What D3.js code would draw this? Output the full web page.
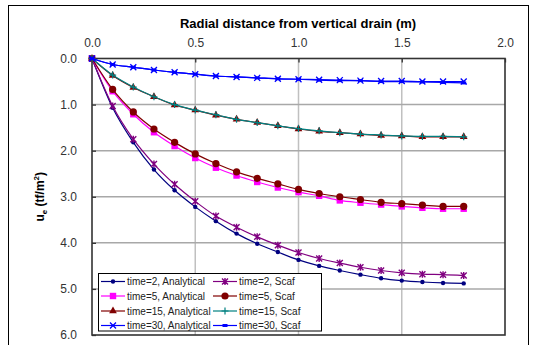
<!DOCTYPE html>
<html>
<head>
<meta charset="utf-8">
<script src="https://cdn.jsdelivr.net/npm/d3@7"></script>
<style>
  html, body { margin: 0; padding: 0; background: #ffffff; }
  svg { display: block; font-family: Arial, "Liberation Sans", sans-serif; }
</style>
</head>
<body>
<svg id="chart" width="533" height="345"></svg>
<script>
// Radial distance (m) at which excess pore pressure is reported
const distances = [0, 0.1, 0.2, 0.3, 0.4, 0.5, 0.6, 0.7, 0.8, 0.9, 1.0, 1.1, 1.2, 1.3, 1.4, 1.5, 1.6, 1.7, 1.8];

// Excess pore pressure ue (tf/m2) per time step
const t2Analytical  = [0, 1.07, 1.82, 2.41, 2.86, 3.22, 3.53, 3.80, 4.02, 4.20, 4.37, 4.50, 4.60, 4.69, 4.77, 4.82, 4.85, 4.87, 4.88];
const t2Scaf        = [0, 1.03, 1.75, 2.29, 2.73, 3.10, 3.42, 3.66, 3.87, 4.05, 4.21, 4.34, 4.44, 4.53, 4.60, 4.65, 4.68, 4.69, 4.71];
const t5Analytical  = [0, 0.71, 1.21, 1.60, 1.90, 2.16, 2.37, 2.54, 2.68, 2.80, 2.90, 2.98, 3.08, 3.13, 3.17, 3.21, 3.24, 3.26, 3.26];
const t5Scaf        = [0, 0.67, 1.16, 1.53, 1.82, 2.07, 2.28, 2.46, 2.60, 2.72, 2.84, 2.93, 3.00, 3.06, 3.12, 3.15, 3.18, 3.21, 3.21];
const t15Analytical = [0, 0.37, 0.63, 0.83, 1.01, 1.12, 1.23, 1.32, 1.39, 1.46, 1.53, 1.58, 1.61, 1.64, 1.67, 1.68, 1.70, 1.70, 1.70];
const t15Scaf       = [0, 0.36, 0.62, 0.83, 1.00, 1.12, 1.22, 1.32, 1.39, 1.46, 1.52, 1.57, 1.61, 1.64, 1.66, 1.68, 1.69, 1.69, 1.70];
const t30Analytical = [0, 0.13, 0.19, 0.25, 0.30, 0.34, 0.38, 0.40, 0.42, 0.44, 0.45, 0.46, 0.47, 0.48, 0.49, 0.49, 0.50, 0.50, 0.50];
const t30Scaf       = [0, 0.13, 0.19, 0.25, 0.30, 0.34, 0.38, 0.40, 0.42, 0.44, 0.45, 0.47, 0.48, 0.48, 0.50, 0.50, 0.51, 0.52, 0.53];

const xTicks = [0, 0.5, 1.0, 1.5, 2.0];
const yTicks = [0, 1, 2, 3, 4, 5, 6];

const seriesNames = [
  "time=2, Analytical", "time=2, Scaf",
  "time=5, Analytical", "time=5, Scaf",
  "time=15, Analytical", "time=15, Scaf",
  "time=30, Analytical", "time=30, Scaf"
];
const seriesValues = [t2Analytical, t2Scaf, t5Analytical, t5Scaf, t15Analytical, t15Scaf, t30Analytical, t30Scaf];
const seriesColors = ["#000080", "#800080", "#ff00ff", "#800000", "#800000", "#008080", "#0000ff", "#0000ff"];
const seriesMarkers = ["dot", "star", "square", "circle", "triangle", "plus", "cross", "dash"];

const svg = d3.select("#chart");

// outer chart frame
svg.append("rect").attr("x", 8.5).attr("y", 5.5).attr("width", 520).attr("height", 345)
  .attr("fill", "#fff").attr("stroke", "#000").attr("stroke-width", 1);

const plot = { left: 92, top: 58.5, right: 505, bottom: 335 };
const x = d3.scaleLinear().domain([0, 2]).range([plot.left, plot.right]);
const y = d3.scaleLinear().domain([0, 6]).range([plot.top, plot.bottom]);

// grid lines
const grid = svg.append("g");
grid.selectAll("line.gx").data(xTicks.slice(1, -1)).join("line")
  .attr("x1", d => x(d)).attr("x2", d => x(d))
  .attr("y1", plot.top).attr("y2", plot.bottom)
  .attr("stroke", "#c0c0c0").attr("stroke-width", 1.5);
grid.selectAll("line.gy").data(yTicks.slice(1, -1)).join("line")
  .attr("x1", plot.left).attr("x2", plot.right)
  .attr("y1", d => y(d)).attr("y2", d => y(d))
  .attr("stroke", "#a8a8a8").attr("stroke-width", 1.5);

// axes: top distance axis and left pressure axis, ticks pointing inward
const xAxis = d3.axisTop(x).tickValues(xTicks).tickFormat(d3.format(".1f")).tickSizeInner(-4).tickSizeOuter(0).tickPadding(12);
const yAxis = d3.axisLeft(y).tickValues(yTicks).tickFormat(d3.format(".1f")).tickSizeInner(-4).tickSizeOuter(0).tickPadding(15);

const gx = svg.append("g").attr("transform", `translate(0,${plot.top})`).call(xAxis);
const gy = svg.append("g").attr("transform", `translate(${plot.left},0)`).call(yAxis);
[gx, gy].forEach(g => {
  g.select(".domain").remove();
  g.selectAll(".tick line").attr("stroke", "#333").attr("stroke-width", 1.3);
  g.selectAll(".tick text").attr("font-size", 12).attr("fill", "#333")
    .attr("font-family", "Arial, 'Liberation Sans', sans-serif");
});

// plot border
svg.append("rect").attr("x", plot.left).attr("y", plot.top)
  .attr("width", plot.right - plot.left).attr("height", plot.bottom - plot.top)
  .attr("fill", "none").attr("stroke", "#333").attr("stroke-width", 1.6);

// axis titles
svg.append("text").attr("x", 298).attr("y", 28).attr("text-anchor", "middle")
  .attr("font-size", 13).attr("font-weight", "bold").attr("fill", "#000")
  .text("Radial distance from vertical drain (m)");

const yt = svg.append("text").attr("transform", `translate(44,${(plot.top + plot.bottom) / 2}) rotate(-90)`)
  .attr("text-anchor", "middle").attr("font-size", 12).attr("font-weight", "bold").attr("fill", "#000");
yt.append("tspan").text("u");
yt.append("tspan").attr("font-size", 8).attr("dy", 3).text("e");
yt.append("tspan").attr("dy", -3).text(" (tf/m");
yt.append("tspan").attr("font-size", 8).attr("dy", -5).text("2");
yt.append("tspan").attr("dy", 5).text(")");

// marker drawing
function drawMarker(g, type, color) {
  switch (type) {
    case "dot":
      g.append("circle").attr("r", 2.2).attr("fill", color); break;
    case "circle":
      g.append("circle").attr("r", 3.6).attr("fill", color); break;
    case "square":
      g.append("rect").attr("x", -3.2).attr("y", -3.2).attr("width", 6.4).attr("height", 6.4).attr("fill", color); break;
    case "triangle":
      g.append("path").attr("d", d3.symbol(d3.symbolTriangle, 26)()).attr("fill", color); break;
    case "star":
      g.append("path").attr("d", "M-3,-3L3,3M-3,3L3,-3M0,-3.5L0,3.5")
        .attr("stroke", color).attr("stroke-width", 1.4).attr("fill", "none"); break;
    case "plus":
      g.append("path").attr("d", "M-3.5,0L3.5,0M0,-3.5L0,3.5")
        .attr("stroke", color).attr("stroke-width", 1.2).attr("fill", "none"); break;
    case "cross":
      g.append("path").attr("d", "M-3,-3L3,3M-3,3L3,-3")
        .attr("stroke", color).attr("stroke-width", 1.3).attr("fill", "none"); break;
    case "dash":
      g.append("rect").attr("x", -2.5).attr("y", -1.5).attr("width", 5).attr("height", 3).attr("fill", color); break;
  }
}

const line = d3.line().x(d => x(d[0])).y(d => y(d[1])).curve(d3.curveMonotoneX);

const seriesG = svg.append("g");
seriesValues.forEach((vals, i) => {
  const pts = distances.map((dd, j) => [dd, vals[j]]);
  const g = seriesG.append("g");
  g.append("path").attr("d", line(pts)).attr("fill", "none")
    .attr("stroke", seriesColors[i]).attr("stroke-width", 1.2);
  pts.forEach(p => {
    const m = g.append("g").attr("transform", `translate(${x(p[0])},${y(p[1])})`);
    drawMarker(m, seriesMarkers[i], seriesColors[i]);
  });
});

// legend
const lg = svg.append("g");
lg.append("rect").attr("x", 98.5).attr("y", 273.5).attr("width", 223).attr("height", 57.5)
  .attr("fill", "#fff").attr("stroke", "#000").attr("stroke-width", 1);
const colX = [101, 213];
const rowY = [281.5, 296, 311, 325.5];
seriesNames.forEach((name, i) => {
  const cx = colX[i % 2], cy = rowY[Math.floor(i / 2)];
  const g = lg.append("g");
  g.append("line").attr("x1", cx).attr("x2", cx + 24).attr("y1", cy).attr("y2", cy)
    .attr("stroke", seriesColors[i]).attr("stroke-width", 1.2);
  const m = g.append("g").attr("transform", `translate(${cx + 12},${cy})`);
  drawMarker(m, seriesMarkers[i], seriesColors[i]);
  g.append("text").attr("x", cx + 26).attr("y", cy + 3.5).attr("font-size", 10).attr("fill", "#222")
    .attr("textLength", null)
    .text(name);
});
</script>
</body>
</html>
